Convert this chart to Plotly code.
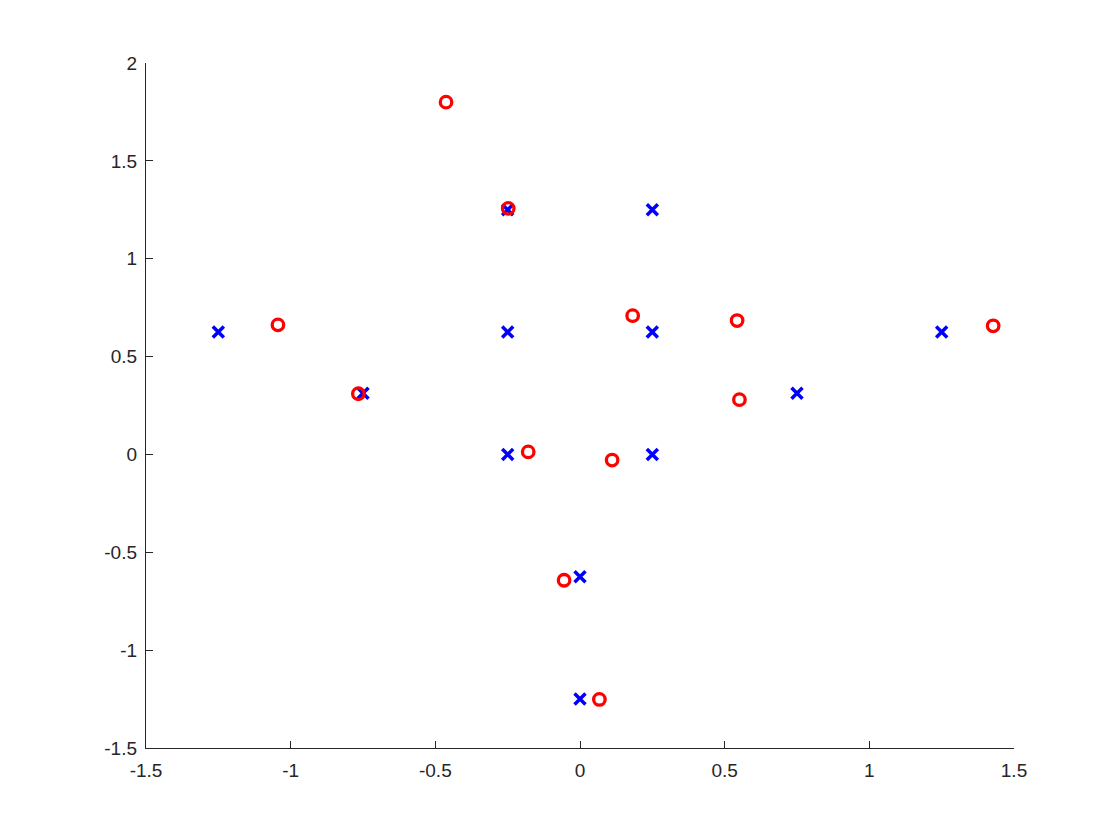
import plotly.graph_objects as go

# blue crosses (grid points)
cross_x = [-1.25, -0.75, -0.25, -0.25, -0.25, 0.25, 0.25, 0.25, 0.0, 0.0, 0.75, 1.25]
cross_y = [0.625, 0.3125, 1.25, 0.625, 0.0, 1.25, 0.625, 0.0, -0.625, -1.25, 0.3125, 0.625]

# red circles
circ_x = [-0.463, -0.248, -1.044, -0.766, 0.182, 0.543, 0.551, 1.428, -0.179, 0.111, -0.055, 0.067]
circ_y = [1.800, 1.257, 0.662, 0.310, 0.709, 0.684, 0.280, 0.657, 0.013, -0.029, -0.643, -1.252]

x_ticks = [-1.5, -1, -0.5, 0, 0.5, 1, 1.5]
y_ticks = [-1.5, -1, -0.5, 0, 0.5, 1, 1.5, 2]

fig = go.Figure()

fig.add_trace(go.Scatter(
    x=cross_x, y=cross_y, mode='markers',
    marker=dict(symbol='x-thin-open', size=11, color='#0000ff',
                line=dict(color='#0000ff', width=3.5)),
    showlegend=False, hoverinfo='skip'
))

fig.add_trace(go.Scatter(
    x=circ_x, y=circ_y, mode='markers',
    marker=dict(symbol='circle-open', size=11.5, color='#ff0000',
                line=dict(color='#ff0000', width=3.3)),
    showlegend=False, hoverinfo='skip'
))

axis_style = dict(
    showgrid=False, zeroline=False, showline=True, linecolor='#262626', linewidth=1.3,
    ticks='inside', ticklen=7, tickwidth=1.3, tickcolor='#262626',
    tickfont=dict(family='Liberation Sans, Arial, sans-serif', size=19, color='#262626'),
    mirror=False,
)

fig.update_xaxes(range=[-1.5, 1.5], tickvals=x_ticks,
                 ticktext=[f'{v:g}' for v in x_ticks], ticklabelstandoff=5, **axis_style)
fig.update_yaxes(range=[-1.5, 2], tickvals=y_ticks,
                 ticktext=[f'{v:g}' for v in y_ticks], ticklabelstandoff=4, **axis_style)

fig.update_layout(
    width=1120, height=840,
    margin=dict(l=138, r=114, t=55, b=100),
    paper_bgcolor='white', plot_bgcolor='white',
)

fig.write_html("out.html")
